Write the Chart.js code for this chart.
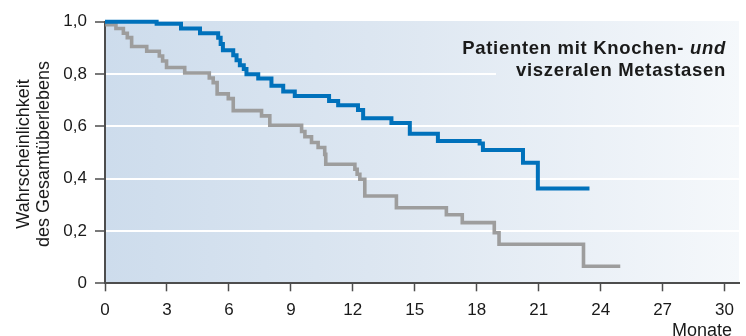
<!DOCTYPE html>
<html>
<head>
<meta charset="utf-8">
<script src="https://cdn.jsdelivr.net/npm/chart.js@4/dist/chart.umd.min.js"></script>
<style>
  html, body { margin: 0; padding: 0; background: #ffffff; }
  canvas { display: block; }
</style>
</head>
<body>
<canvas id="km" width="746" height="336" style="width:746px;height:336px"></canvas>
<script>
// Kaplan-Meier Gesamtüberleben: Patienten mit Knochen- und viszeralen Metastasen
const blueMonths = [0, 2.50, 3.68, 4.60, 5.48, 5.60, 5.71, 6.21, 6.37, 6.53, 6.72, 6.85, 7.42, 8.06, 8.63, 9.19, 10.85, 11.29, 12.25, 12.50, 13.87, 14.76, 16.12, 18.14, 18.30, 20.24, 20.96, 23.46];
const blueSurvival = [1.0, 0.992, 0.974, 0.956, 0.939, 0.915, 0.891, 0.872, 0.853, 0.834, 0.819, 0.799, 0.783, 0.755, 0.733, 0.716, 0.697, 0.681, 0.662, 0.631, 0.613, 0.572, 0.544, 0.534, 0.510, 0.461, 0.362, 0.362];

const greyMonths = [0, 0.10, 0.53, 0.89, 1.08, 1.29, 2.02, 2.63, 2.79, 2.98, 3.86, 5.05, 5.24, 5.43, 5.97, 6.21, 7.58, 7.98, 9.52, 9.68, 10.00, 10.32, 10.64, 10.69, 12.10, 12.21, 12.34, 12.58, 14.11, 16.53, 17.30, 18.85, 19.08, 23.17, 24.95];
const greySurvival = [1.0, 0.989, 0.974, 0.956, 0.939, 0.905, 0.887, 0.869, 0.850, 0.825, 0.804, 0.785, 0.767, 0.724, 0.706, 0.660, 0.640, 0.604, 0.580, 0.560, 0.538, 0.519, 0.493, 0.455, 0.436, 0.417, 0.398, 0.334, 0.289, 0.262, 0.232, 0.193, 0.149, 0.065, 0.065];

const xTicks = [0, 3, 6, 9, 12, 15, 18, 21, 24, 27, 30];
const yTicks = [0, 0.2, 0.4, 0.6, 0.8, 1.0];

const yTitleLines = ['Wahrscheinlichkeit', 'des Gesamtüberlebens'];
const xTitle = 'Monate';
const boxLine1 = 'Patienten mit Knochen- ';
const boxLine1Italic = 'und';
const boxLine2 = 'viszeralen Metastasen';

const toPoints = (xs, ys) => xs.map((x, i) => ({ x, y: ys[i] }));

const AXIS = '#4d4d4d';
const TEXT = '#1a1a1a';
const FONT = '"Liberation Sans", Arial, Helvetica, sans-serif';

function areaGradient(ctx, area) {
  const g = ctx.createLinearGradient(area.left, 0, area.right, 0);
  g.addColorStop(0, '#cddcec');
  g.addColorStop(0.5, '#dfe8f2');
  g.addColorStop(1, '#f5f8fb');
  return g;
}

const decor = {
  id: 'decor',
  beforeDraw(chart) {
    const { ctx, chartArea: a } = chart;
    ctx.save();
    ctx.fillStyle = areaGradient(ctx, a);
    ctx.fillRect(a.left, a.top - 0.7, a.right - a.left, a.bottom - a.top + 0.7);
    ctx.restore();
  },
  beforeDatasetsDraw(chart) {
    // panel behind the caption hides the grid line there
    const { ctx, chartArea: a } = chart;
    ctx.save();
    ctx.fillStyle = areaGradient(ctx, a);
    ctx.fillRect(496, a.top + 8, a.right - 496, 60);
    ctx.restore();
  },
  afterDraw(chart) {
    const { ctx } = chart;
    ctx.save();
    ctx.fillStyle = TEXT;
    // caption
    ctx.letterSpacing = '0.7px';
    ctx.textAlign = 'right';
    ctx.textBaseline = 'alphabetic';
    ctx.font = 'italic bold 18.5px ' + FONT;
    const rightX = 726;
    ctx.fillText(boxLine1Italic, rightX, 53.5);
    const wi = ctx.measureText(boxLine1Italic).width;
    ctx.font = 'bold 18.5px ' + FONT;
    ctx.fillText(boxLine1, rightX - wi, 53.5);
    ctx.fillText(boxLine2, rightX, 76);
    ctx.letterSpacing = '0px';
    // x-axis unit
    ctx.font = '18px ' + FONT;
    ctx.fillText(xTitle, 732, 336);
    // y-axis title
    ctx.translate(0, 154);
    ctx.rotate(-Math.PI / 2);
    ctx.textAlign = 'center';
    ctx.fillText(yTitleLines[0], 0, 28.5);
    ctx.fillText(yTitleLines[1], 0, 48.5);
    ctx.restore();
  }
};

new Chart(document.getElementById('km'), {
  type: 'line',
  data: {
    datasets: [
      {
        data: toPoints(blueMonths, blueSurvival),
        stepped: 'before',
        borderColor: '#0071bb',
        borderWidth: 4,
        borderJoinStyle: 'miter',
        borderCapStyle: 'butt',
        pointRadius: 0,
        fill: false,
        clip: false
      },
      {
        data: toPoints(greyMonths, greySurvival),
        stepped: 'before',
        borderColor: '#9d9d9d',
        borderWidth: 3.6,
        borderJoinStyle: 'miter',
        borderCapStyle: 'butt',
        pointRadius: 0,
        fill: false,
        clip: false
      }
    ]
  },
  options: {
    responsive: false,
    animation: false,
    devicePixelRatio: 1,
    layout: { padding: { top: 21.7, right: 7, bottom: 0, left: 0 } },
    plugins: { legend: { display: false }, tooltip: { enabled: false } },
    scales: {
      x: {
        type: 'linear',
        min: 0,
        max: 30.7,
        afterBuildTicks: s => { s.ticks = xTicks.map(v => ({ value: v })); },
        afterFit: s => { s.height = 52.7; },
        border: { color: AXIS, width: 2 },
        grid: { drawOnChartArea: false, tickLength: 8, tickColor: AXIS, tickWidth: 1.5 },
        ticks: { color: TEXT, font: { family: FONT, size: 17 }, padding: 9, maxRotation: 0, autoSkip: false }
      },
      y: {
        type: 'linear',
        min: 0,
        max: 1,
        afterBuildTicks: s => { s.ticks = yTicks.map(v => ({ value: v })); },
        afterFit: s => { s.width = 105; },
        border: { color: AXIS, width: 2 },
        grid: {
          color: c => (c.tick && c.tick.value > 0.01 && c.tick.value < 0.99) ? '#ffffff' : 'rgba(0,0,0,0)',
          lineWidth: 2,
          tickLength: 10,
          tickColor: AXIS,
          tickWidth: 1.5
        },
        ticks: {
          color: TEXT,
          font: { family: FONT, size: 17 },
          padding: 8,
          autoSkip: false,
          callback: v => v === 0 ? '0' : Number(v).toFixed(1).replace('.', ',')
        }
      }
    }
  },
  plugins: [decor]
});
</script>
</body>
</html>
